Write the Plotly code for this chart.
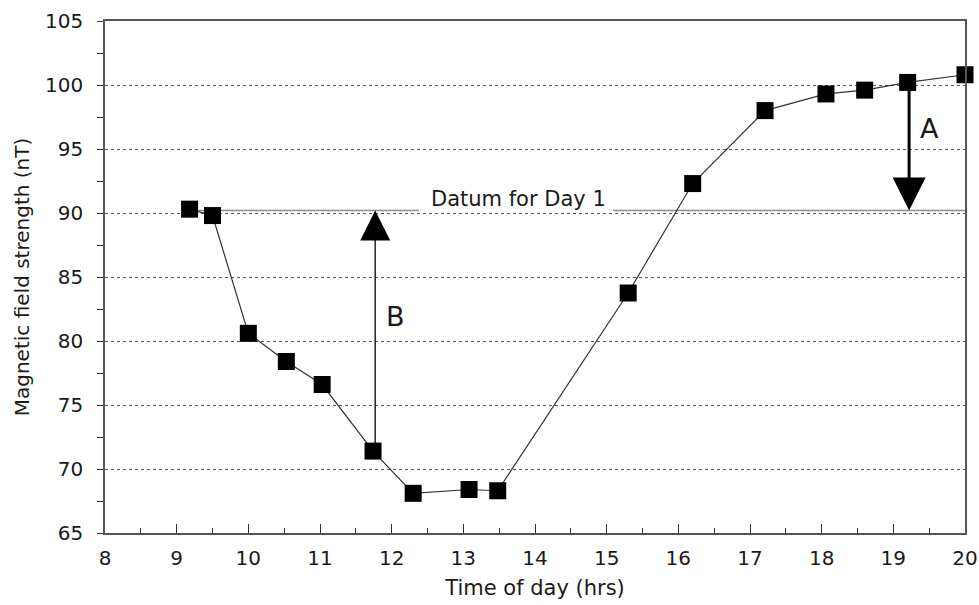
import plotly.graph_objects as go

# Data
time_hrs = [9.18, 9.50, 10.00, 10.53, 11.03, 11.74, 12.30, 13.08, 13.48,
            15.30, 16.20, 17.21, 18.06, 18.60, 19.20, 20.0]
field_nT = [90.3, 89.8, 80.6, 78.4, 76.6, 71.4, 68.1, 68.4, 68.3,
            83.75, 92.3, 98.0, 99.3, 99.6, 100.2, 100.8]

datum_value = 90.2
datum_left = [9.18, 12.38]
datum_right = [15.09, 20.0]
datum_label = "Datum for Day 1"
datum_label_x = 13.77

arrow_b_x = 11.77
arrow_b_from = 71.4
arrow_a_x = 19.22
arrow_a_from = 100.2

x_ticks = list(range(8, 21))
y_ticks = list(range(65, 106, 5))

FONT = "DejaVu Sans, Arial, sans-serif"
TXT = "#1a1a1a"
fig = go.Figure()

# datum line segments
for seg in (datum_left, datum_right):
    fig.add_trace(go.Scatter(x=seg, y=[datum_value, datum_value], mode="lines",
                             line=dict(color="#8c8c8c", width=1.5),
                             hoverinfo="skip", showlegend=False))

# arrow B shaft
fig.add_trace(go.Scatter(x=[arrow_b_x, arrow_b_x], y=[arrow_b_from, datum_value - 1.5],
                         mode="lines", line=dict(color="#222222", width=1.5),
                         showlegend=False, hoverinfo="skip"))
# arrow A shaft
fig.add_trace(go.Scatter(x=[arrow_a_x, arrow_a_x], y=[arrow_a_from, datum_value + 1.5],
                         mode="lines", line=dict(color="#000000", width=3),
                         showlegend=False, hoverinfo="skip"))

# main series
fig.add_trace(go.Scatter(x=time_hrs, y=field_nT, mode="lines+markers",
                         line=dict(color="#333333", width=1.2),
                         marker=dict(symbol="square", size=17, color="black"),
                         cliponaxis=False, showlegend=False))

# arrowheads
fig.add_annotation(x=arrow_b_x, y=datum_value, ax=arrow_b_x, ay=datum_value - 1.0,
                   xref="x", yref="y", axref="x", ayref="y", text="",
                   showarrow=True, arrowhead=2, arrowsize=4, arrowwidth=1.5,
                   arrowcolor="black", standoff=0)
fig.add_annotation(x=arrow_a_x, y=datum_value, ax=arrow_a_x, ay=datum_value + 1.0,
                   xref="x", yref="y", axref="x", ayref="y", text="",
                   showarrow=True, arrowhead=2, arrowsize=2.2, arrowwidth=3,
                   arrowcolor="black", standoff=0)

fig.add_annotation(x=datum_label_x, y=datum_value, yshift=11, text=datum_label,
                   showarrow=False, font=dict(family=FONT, size=21, color=TXT))
fig.add_annotation(x=12.05, y=81.9, text="B", showarrow=False,
                   font=dict(family=FONT, size=27, color=TXT))
fig.add_annotation(x=19.5, y=96.6, text="A", showarrow=False,
                   font=dict(family=FONT, size=27, color=TXT))

fig.update_xaxes(range=[8, 20], tickvals=x_ticks, ticks="inside", ticklen=9,
                 tickcolor="#333", showgrid=False, zeroline=False, automargin=False,
                 showline=True, linecolor="#555", linewidth=1.5, mirror=True,
                 minor=dict(dtick=0.5, ticks="inside", ticklen=5, tickcolor="#333"),
                 ticklabelstandoff=6, ticklabeloverflow="allow",
                 tickfont=dict(family=FONT, size=20, color=TXT),
                 title=dict(text="Time of day (hrs)", standoff=12,
                            font=dict(family=FONT, size=21, color=TXT)))
fig.update_yaxes(range=[65, 105], tickvals=y_ticks, ticks="outside", ticklen=6,
                 tickcolor="#333", showgrid=True, gridcolor="#555", griddash="dot",
                 gridwidth=1, zeroline=False, automargin=False,
                 showline=True, linecolor="#555", linewidth=1.5, mirror=True,
                 minor=dict(dtick=2.5, ticks="outside", ticklen=6, tickcolor="#333",
                            showgrid=False),
                 ticklabelstandoff=10, ticklabeloverflow="allow",
                 tickfont=dict(family=FONT, size=20, color=TXT),
                 title=dict(text="Magnetic field strength (nT)", standoff=10,
                            font=dict(family=FONT, size=20, color=TXT)))

fig.update_layout(width=979, height=605, plot_bgcolor="white", paper_bgcolor="white",
                  margin=dict(l=105, r=14, t=21, b=72), showlegend=False)

fig.write_html("out.html", config={"displayModeBar": False},
               post_script="document.body.style.margin='0px';document.body.style.overflow='hidden';")
